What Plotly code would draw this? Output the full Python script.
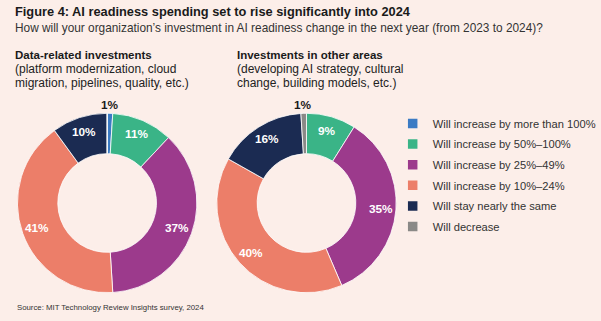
import math
import plotly.graph_objects as go

categories = ["Will increase by more than 100%", "Will increase by 50%–100%",
              "Will increase by 25%–49%", "Will increase by 10%–24%",
              "Will stay nearly the same", "Will decrease"]
colors = ["#3B7BC4", "#3AB487", "#9C3A8C", "#EC7E69", "#1B2B52", "#8A8987"]
data_related = [1, 11, 37, 41, 10, 0]
other_areas = [0, 9, 35, 40, 16, 1]

W, H = 601, 321
BG = "#FCEEE9"
CY, R = 203, 90
FONT = "Liberation Sans"

def dom(cx, cy, r):
    return dict(x=[(cx - r) / W, (cx + r) / W], y=[(H - cy - r) / H, (H - cy + r) / H])

ann = []
def t(x, y, s, size, bold=False, color="#222", anchor="left"):
    ann.append(dict(x=x / W, y=1 - y / H, xref="paper", yref="paper", xanchor=anchor,
                    yanchor="middle", showarrow=False,
                    text=f"<b>{s}</b>" if bold else s,
                    font=dict(size=size, color=color, family=FONT)))

fig = go.Figure()
for vals, cx in [(data_related, 107.5), (other_areas, 307.5)]:
    fig.add_trace(go.Pie(
        labels=categories, values=vals, textinfo="none",
        sort=False, direction="clockwise", rotation=0,
        hole=0.55, domain=dom(cx, CY, R),
        marker=dict(colors=colors, line=dict(color="white", width=0.8)),
        showlegend=False, hoverinfo="label+value",
    ))
    # value labels placed at each slice's mid angle
    total = sum(vals)
    acc = 0
    for v in vals:
        if v > 0:
            mid = (acc + v / 2) / total * 2 * math.pi
            if v <= 2:
                rr, col = R + 8, "#1a1a1a"
            else:
                rr, col = 75, "white"
            t(cx + rr * math.sin(mid), CY - rr * math.cos(mid), f"{v}%", 11.8, True, col, "center")
        acc += v

# legend entries
for name, col in zip(categories, colors):
    fig.add_trace(go.Scatter(
        x=[None], y=[None], mode="markers", name=name, legendgroup=name,
        marker=dict(symbol="square", size=9.5, color=col),
    ))

t(13, 11, "Figure 4: AI readiness spending set to rise significantly into 2024", 12.8, True, "#1a1a1a")
t(13, 28, "How will your organization’s investment in AI readiness change in the next year (from 2023 to 2024)?", 11.85, False, "#333")
t(13, 55, "Data-related investments", 11.5, True, "#1a1a1a")
t(13, 69, "(platform modernization, cloud", 12, False)
t(13, 83, "migration, pipelines, quality, etc.)", 12, False)
t(236, 55, "Investments in other areas", 11.5, True, "#1a1a1a")
t(236, 69, "(developing AI strategy, cultural", 12, False)
t(236, 83, "change, building models, etc.)", 12, False)
t(15, 307, "Source: MIT Technology Review Insights survey, 2024", 7.8, False, "#333")

fig.update_layout(
    width=W, height=H, margin=dict(l=0, r=0, t=0, b=0),
    paper_bgcolor=BG, plot_bgcolor=BG,
    annotations=ann,
    xaxis=dict(visible=False), yaxis=dict(visible=False),
    legend=dict(x=394 / W, y=1 - 109 / H, xanchor="left", yanchor="top",
                font=dict(size=11.15, color="#333", family=FONT),
                itemwidth=30, tracegroupgap=1.6, bgcolor="rgba(0,0,0,0)"),
)
fig.write_html("out.html")
